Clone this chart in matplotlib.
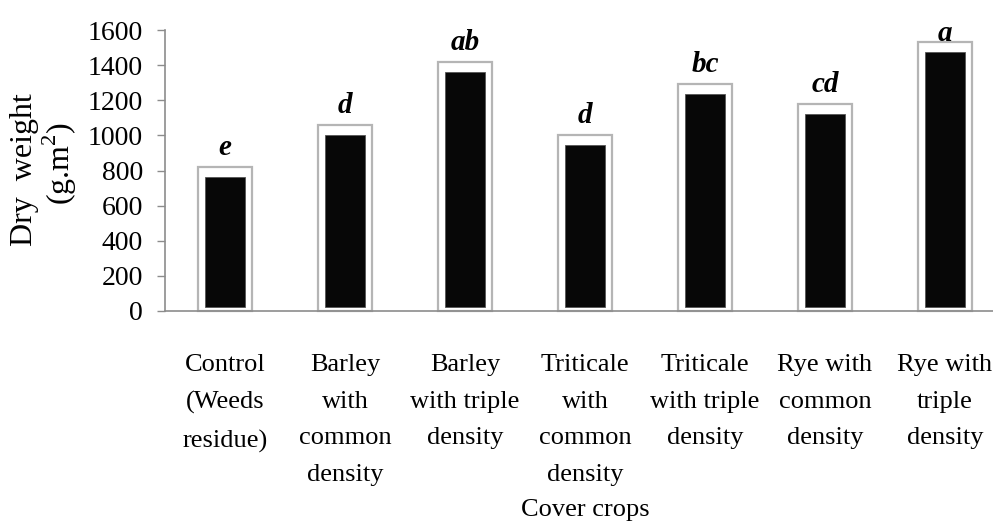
import matplotlib
matplotlib.use('Agg')
import matplotlib.pyplot as plt
import numpy as np

plt.rcParams['font.family'] = ['Liberation Serif', 'DejaVu Serif']
plt.rcParams['mathtext.fontset'] = 'custom'
plt.rcParams['mathtext.rm'] = 'Liberation Serif'

# data
crops = ['Control\n(Weeds\nresidue)', 'Barley\nwith\ncommon\ndensity', 'Barley\nwith triple\ndensity',
         'Triticale\nwith\ncommon\ndensity', 'Triticale\nwith triple\ndensity', 'Rye with\ncommon\ndensity',
         'Rye with\ntriple\ndensity']
dry_weight = [763, 1002, 1361, 945, 1236, 1122, 1475]
letters = ['e', 'd', 'ab', 'd', 'bc', 'cd', 'a']
yticks = [0, 200, 400, 600, 800, 1000, 1200, 1400, 1600]

fig = plt.figure(figsize=(9.93, 5.22), dpi=100)
ax = fig.add_axes([165/993, 211/522, 840/993, 281/522])

x = np.arange(len(crops))
vals = np.array(dry_weight)
frame_top = vals + 55
# letter offset above the frame (points); the last one is squeezed by the top
lab_off = [9, 9, 9, 9, 9, 9, 1]

# white bevel frame behind each bar, with a soft grey shadow
ax.bar(x + 0.012, frame_top, width=0.45, color='#d9d9d9', zorder=1, clip_on=False)
ax.bar(x, frame_top, width=0.45, color='white', edgecolor='#b5b5b5', linewidth=1.6, zorder=2, clip_on=False)
ax.bar(x, vals - 20, bottom=20, width=0.34, color='#070707', edgecolor='#555555', linewidth=0.6, zorder=3)

for xi, top, lab, off in zip(x, frame_top, letters, lab_off):
    ax.annotate(lab, (xi, top), xytext=(0, off), textcoords='offset points',
                ha='center', va='baseline', fontsize=21, fontweight='bold', fontstyle='italic')

ax.set_xlim(-0.5, 6.5)
ax.set_ylim(0, 1600)
ax.set_yticks(yticks)
ax.set_yticklabels([str(t) for t in yticks], fontsize=20)
ax.set_xticks(x)
ax.set_xticklabels(crops, fontsize=19, linespacing=1.86)
ax.tick_params(axis='x', length=0, pad=31)
ax.tick_params(axis='y', length=6, width=1, color='#8c8c8c', pad=10)

for s in ['top', 'right']:
    ax.spines[s].set_visible(False)
for s in ['left', 'bottom']:
    ax.spines[s].set_color('#8c8c8c')
    ax.spines[s].set_linewidth(1.2)

fig.text(25/993, 1 - 170/522, 'Dry  weight', rotation=90, ha='center', va='center', fontsize=23)
fig.text(60/993, 1 - 163/522, '(g.m$^{2}$)', rotation=90, ha='center', va='center', fontsize=23)
fig.text(585/993, 1 - 510/522, 'Cover crops', ha='center', va='center', fontsize=19)

fig.savefig('out.png', dpi=100)
